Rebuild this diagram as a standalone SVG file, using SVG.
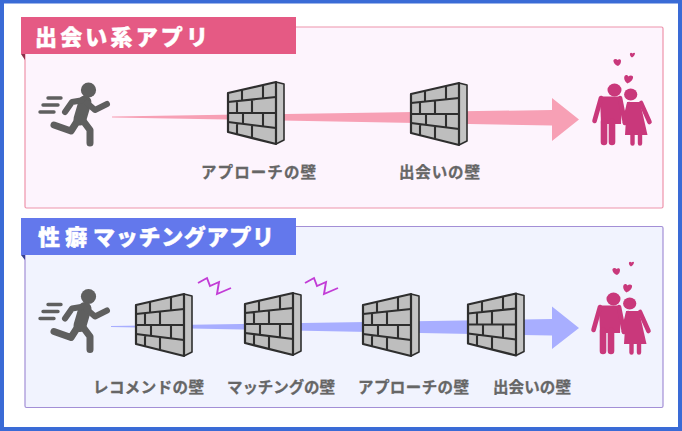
<svg xmlns="http://www.w3.org/2000/svg" width="682" height="431" viewBox="0 0 682 431">
<style>
.lbl{font-family:"Noto Sans CJK JP","Liberation Sans",sans-serif;font-weight:700;font-size:15.5px;fill:#666;stroke:#666;stroke-width:.3}
.ttl{font-family:"Noto Sans CJK JP","Liberation Sans",sans-serif;font-weight:900;font-size:22px;fill:#fff;stroke:#fff;stroke-width:.4}
.zig{fill:none;stroke:#c23cd6;stroke-width:1.9}
</style>
<defs>
<g id="wall">
<path d="M48 0L56 2V58L48 62Z" fill="#c4c4c4" stroke="#2e2e2e" stroke-width="1.6" stroke-linejoin="round"/>
<path d="M0 11L48 0V62L0 50Z" fill="#bebebe" stroke="#2e2e2e" stroke-width="2.2" stroke-linejoin="round"/>
<path d="M0 20L48 15M0 31H48M0 40L48 46M14 8V18.500M35 3V16.400M9 19V31M24 17.500V31M15 31V42M35 31V44.400M9 41V52.300M24 43V56" fill="none" stroke="#2e2e2e" stroke-width="2.100"/>
</g>
<g id="runner" fill="none" stroke="#5f5f5f" stroke-linecap="round" stroke-linejoin="round">
<circle cx="88.500" cy="90" r="7.600" fill="#5f5f5f" stroke="none"/>
<path d="M85 102L80 119" stroke-width="13"/>
<path d="M84 100L72 102L65 112" stroke-width="6"/>
<path d="M87 103L95 110L107 104" stroke-width="6"/>
<path d="M78 120L71 131L54 125" stroke-width="7"/>
<path d="M81 118L90 130V143" stroke-width="7"/>
<path d="M48 98H61M43 105H58M40 112H54" stroke-width="3.400"/>
</g>
<g id="couple">
<g fill="#c9387b">
<ellipse cx="614.500" cy="90" rx="7" ry="6.400"/>
<ellipse cx="630.700" cy="94.500" rx="6.600" ry="6"/>
<path d="M600 96.500H618L622 99L621 124H601Z"/>
<path d="M627 102H640L647.500 135H625Z"/>
<path d="M627.500 83.500C624 81 623.500 77 625 75.500C626 74.500 628 75 628.500 76.500C629.500 75 632 75 633 76.500C633.500 79 631 82 627.500 83.500Z"/>
<path d="M618 66C615 65 613 62 613.500 60C614.500 58.500 616.500 58.500 617.500 60C619 58.500 621 59 621 61C621 63 620 65 618 66Z"/>
<path d="M632 57.500C630.500 56.500 629.500 55 630 53.500C630.500 52.500 631.500 52.500 632.500 53.500C633.500 52.500 635 52.500 635 53.500C635 55 633.500 56.500 632 57.500Z"/>
</g>
<g fill="none" stroke="#c9387b" stroke-linecap="round" stroke-linejoin="round">
<path d="M601 98L594.500 121M620 98L625 123M629 104L624.500 122M641 103L649.500 122" stroke-width="4.600"/>
<path d="M604 122V142M612 122V142" stroke-width="6.600"/>
<path d="M632.500 134V143.500M640 134V143.500" stroke-width="4.400"/>
</g>
</g>
</defs>
<rect width="682" height="431" fill="#fff"/>
<rect x="2" y="1.500" width="678" height="427.500" fill="none" stroke="#3a6bd6" stroke-width="4"/>

<g id="panel-dating">
<rect x="25" y="27" width="638" height="181" rx="1.500" fill="#fdf4fd" stroke="#ee93ab" stroke-width="1.200"/>
<path d="M21 54L25 60V54Z" fill="#8c2f4a"/>
<rect x="21" y="17" width="275" height="37" fill="#e55a84"/>
<text class="ttl" x="35" y="44.500" textLength="173">出会い系アプリ</text>
</g>
<g id="panel-matching">
<rect x="25" y="226.500" width="638" height="181" rx="1.500" fill="#f1f3fe" stroke="#a38fd6" stroke-width="1.200"/>
<path d="M21 255L25 260V255Z" fill="#36408f"/>
<rect x="21" y="218" width="275" height="37" fill="#6378ec"/>
<text class="ttl" y="245"><tspan x="38">性</tspan><tspan x="65">癖</tspan><tspan x="93" textLength="181">マッチングアプリ</tspan></text>
</g>

<g id="connectors">
<path d="M112 116.500L552 110V98L579 119.500L552 141V125.500L112 117.500Z" fill="#f7a0b5"/>
<path d="M111 326L552 319V306.500L579 328L552 349V335.500L111 327Z" fill="#a8aeff"/>
</g>

<g id="runner-1"><use href="#runner"/></g>
<g id="wall-approach-1"><use href="#wall" x="228" y="82"/><text class="lbl" x="201" y="178" textLength="115">アプローチの壁</text></g>
<g id="wall-meet-1"><use href="#wall" x="411" y="83"/><text class="lbl" x="399" y="178" textLength="81">出会いの壁</text></g>
<g id="couple-1"><use href="#couple"/></g>

<g id="runner-2"><use href="#runner" y="206.500"/></g>
<g id="wall-recommend"><use href="#wall" x="136" y="294"/><path class="zig" d="M198 283L207 278L210 286L219 282L217 294L231 288"/><text class="lbl" x="93" y="393" textLength="111">レコメンドの壁</text></g>
<g id="wall-matching"><use href="#wall" x="245" y="293"/><path class="zig" d="M305 283L314 278L317 286L326 282L324 294L338 288"/><text class="lbl" x="227" y="393" textLength="108">マッチングの壁</text></g>
<g id="wall-approach-2"><use href="#wall" x="363" y="294"/><text class="lbl" x="358" y="393" textLength="111">アプローチの壁</text></g>
<g id="wall-meet-2"><use href="#wall" x="468" y="293.500"/><text class="lbl" x="493" y="393" textLength="78">出会いの壁</text></g>
<g id="couple-2"><use href="#couple" x="-1" y="209"/></g>
</svg>
